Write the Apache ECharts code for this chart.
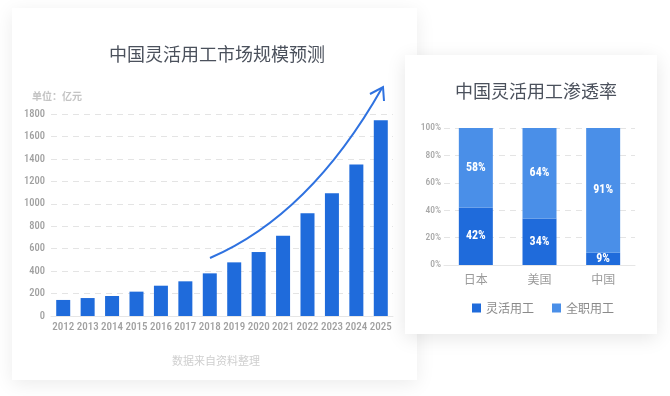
<!DOCTYPE html>
<html>
<head>
<meta charset="utf-8">
<script src="https://cdn.jsdelivr.net/npm/echarts@6/dist/echarts.min.js"></script>
<style>
html,body{margin:0;padding:0;background:#fff;}
#c{width:670px;height:396px;}
</style>
</head>
<body>
<div id="c"></div>
<script>
var years = ['2012','2013','2014','2015','2016','2017','2018','2019','2020','2021','2022','2023','2024','2025'];
var marketSize = [143, 160, 178, 217, 270, 309, 380, 478, 570, 716, 915, 1093, 1349, 1745];
var countries = ['日本','美国','中国'];
var flexShare = [42, 34, 9];
var fullShare = [58, 66, 91];
var fullShareLabels = ['58%', '64%', '91%'];
var seriesNames = ['灵活用工', '全职用工'];

var CJK = '"Noto Sans CJK SC", sans-serif';
var NUM = '"Roboto Condensed", "DejaVu Sans Condensed", sans-serif';
var dark = '#1f6bdb', light = '#4a8fe8';

var chart = echarts.init(document.getElementById('c'), null, {renderer: 'canvas'});
chart.setOption({
  backgroundColor: '#ffffff',
  animation: false,
  graphic: [
    {type: 'rect', z: -10, shape: {x: 12, y: 8, width: 405, height: 372},
     style: {fill: '#fff', shadowBlur: 18, shadowColor: 'rgba(0,0,0,0.08)', shadowOffsetY: 4}},
    {type: 'rect', z: -9, shape: {x: 405, y: 55, width: 252, height: 279},
     style: {fill: '#fff', shadowBlur: 18, shadowColor: 'rgba(0,0,0,0.10)', shadowOffsetY: 4}},
    {type: 'bezierCurve', z: 10, shape: {x1: 210, y1: 258, x2: 382, y2: 88, cpx1: 310, cpy1: 215},
     style: {stroke: '#2f72e0', lineWidth: 2, fill: null}},
    {type: 'polyline', z: 10, shape: {points: [[370, 94], [383, 87], [384, 101]]},
     style: {stroke: '#2f72e0', lineWidth: 2, fill: null}}
  ],
  title: [
    {text: '中国灵活用工市场规模预测', left: 212, top: 40, textAlign: 'center',
     textStyle: {fontFamily: CJK, fontSize: 18, fontWeight: 'normal', color: '#4b515c'}},
    {text: '单位：亿元', left: 27, top: 86,
     textStyle: {fontFamily: CJK, fontSize: 10, fontWeight: 'bold', color: '#c4c4c4'}},
    {text: '数据来自资料整理', left: 211, top: 350, textAlign: 'center',
     textStyle: {fontFamily: CJK, fontSize: 11, fontWeight: 'normal', color: '#cfcfcf'}},
    {text: '中国灵活用工渗透率', left: 531, top: 77, textAlign: 'center',
     textStyle: {fontFamily: CJK, fontSize: 18, fontWeight: 'normal', color: '#4b515c'}}
  ],
  legend: {
    left: 472, top: 302, padding: 0, itemWidth: 9, itemHeight: 9, itemGap: 18, icon: 'rect',
    data: seriesNames,
    textStyle: {fontFamily: CJK, fontSize: 12, color: '#8a8a8a'}
  },
  grid: [
    {left: 51, top: 114, width: 342, height: 202, containLabel: false},
    {left: 444, top: 128, width: 191, height: 137, containLabel: false}
  ],
  xAxis: [
    {type: 'category', gridIndex: 0, data: years,
     axisLine: {lineStyle: {color: '#e6e6e6'}}, axisTick: {show: false},
     axisLabel: {fontFamily: NUM, fontSize: 11, fontWeight: 500, color: '#a0a0a0', margin: 6, interval: 0}},
    {type: 'category', gridIndex: 1, data: countries,
     axisLine: {lineStyle: {color: '#e6e6e6'}}, axisTick: {show: false},
     axisLabel: {fontFamily: CJK, fontSize: 12, color: '#9a9a9a', margin: 8}}
  ],
  yAxis: [
    {type: 'value', gridIndex: 0, min: 0, max: 1800, interval: 200,
     axisLine: {show: false}, axisTick: {show: false},
     axisLabel: {fontFamily: NUM, fontSize: 10.5, fontWeight: 500, color: '#a0a0a0', margin: 6,
                 formatter: function (v) { return String(v); }},
     splitLine: {lineStyle: {color: '#e4e4e4', type: [6, 5]}}},
    {type: 'value', gridIndex: 1, min: 0, max: 100, interval: 20,
     axisLine: {show: false}, axisTick: {show: false},
     axisLabel: {fontFamily: NUM, fontSize: 9.5, fontWeight: 500, color: '#a8a8a8', margin: 3,
                 formatter: function (v) { return v + '%'; }},
     splitLine: {lineStyle: {color: '#e4e4e4', type: [6, 5]}}}
  ],
  series: [
    {type: 'bar', xAxisIndex: 0, yAxisIndex: 0, data: marketSize, barWidth: 14,
     itemStyle: {color: dark}},
    {name: seriesNames[0], type: 'bar', xAxisIndex: 1, yAxisIndex: 1, stack: 'p', data: flexShare,
     barWidth: 34, itemStyle: {color: dark},
     label: {show: true, position: 'inside', formatter: '{c}%', color: '#fff',
             fontFamily: NUM, fontSize: 12, fontWeight: 'bold'}},
    {name: seriesNames[1], type: 'bar', xAxisIndex: 1, yAxisIndex: 1, stack: 'p', data: fullShare,
     barWidth: 34, itemStyle: {color: light},
     label: {show: true, position: 'inside', color: '#fff',
             formatter: function (p) { return fullShareLabels[p.dataIndex]; },
             fontFamily: NUM, fontSize: 12, fontWeight: 'bold'}}
  ]
});
</script>
</body>
</html>
